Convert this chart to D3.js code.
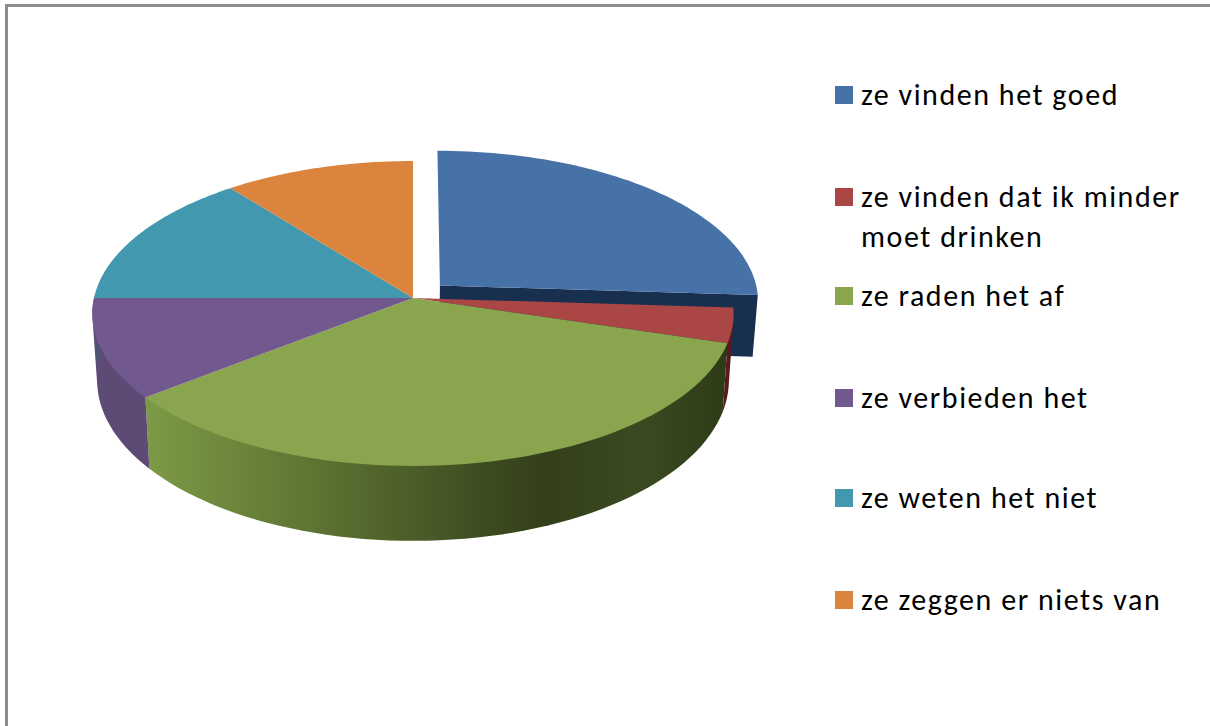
<!DOCTYPE html>
<html><head><meta charset="utf-8">
<style>html,body{margin:0;padding:0;background:#fff}svg{display:block}</style>
<script src="https://cdn.jsdelivr.net/npm/d3@7"></script></head>
<body><div id="c"></div>
<script>
const categories=["ze vinden het goed","ze vinden dat ik minder moet drinken","ze raden het af","ze verbieden het","ze weten het niet","ze zeggen er niets van"];
const values=[26,3.7,34.7,10.6,14.4,10.6];
const topColors=["#4672a8","#aa4643","#89a54e","#71588f","#4198af","#db843d"];
const sideColors=["#182f4f","#5a1a1c","#4d6128","#5d4a75","#2d6a7c","#9a5a28"];
const legendLines=[["ze vinden het goed"],["ze vinden dat ik minder","moet drinken"],["ze raden het af"],["ze verbieden het"],["ze weten het niet"],["ze zeggen er niets van"]];
const legendY=[95,197,296,398,498,600];

const W=1210,H=726;
const svg=d3.select("#c").append("svg").attr("width",W).attr("height",H);
const defs=svg.append("defs");
const g=defs.append("linearGradient").attr("id","gs").attr("gradientUnits","userSpaceOnUse")
 .attr("x1",146).attr("x2",730).attr("y1",0).attr("y2",0);
[[0,"#7c9a46"],[0.3,"#5c7232"],[0.68,"#333f1a"],[0.85,"#3a4a20"],[1,"#2e3a17"]].forEach(s=>g.append("stop").attr("offset",s[0]).attr("stop-color",s[1]));

// perspective disc projection
const cx=413,cy=298,R=319,k=0.1016,A=150.9;
const xT=d3.scaleLinear().domain([-1,1]).range([cx-R,cx+R]);
const yT=d3.scaleLinear().domain([-1,1]).range([cy-A,cy+A]);
const xB=d3.scaleLinear().domain([-1,1]).range([cx-R*0.985,cx+R*0.985]);
const yB=d3.scaleLinear().domain([-1,1]).range([cy+66-158.9,cy+66+158.9]);
const yBx=d3.scaleLinear().domain([-1,1]).range([cy+62-158.9,cy+62+158.9]);
const project=(xs,ys)=>(a,r=1,eu=0,ev=0)=>{const u=r*Math.sin(a)+eu,v=-r*Math.cos(a)+ev,w=1-k*v;return [xs(u/w),ys(v/w)];};
const topPt=project(xT,yT),botPt=project(xB,yB),botEx=project(xB,yBx);
const line=d3.line();
const arcs=d3.pie().sort(null).startAngle(0).endAngle(2*Math.PI)(values);
const samples=(a0,a1)=>d3.range(0,61).map(i=>a0+(a1-a0)*i/60);
const root=svg.append("g");
// frame
root.append("path").attr("d","M6.5,726V5.5H1210").attr("fill","none").attr("stroke","#8c8c8c").attr("stroke-width",3);

const eu=0.085,ev=-0.083;
// exploded slice faces first
const b=arcs[0];
root.append("path").attr("fill","#182f4f").attr("d",line([topPt(0,0,eu,ev),topPt(b.endAngle,1,eu,ev),botEx(b.endAngle,1,eu,ev),botEx(b.endAngle,0,eu,ev)])+"Z");
root.append("path").attr("fill",topColors[0]).attr("d",line([topPt(0,0,eu,ev),...samples(b.startAngle,b.endAngle).map(a=>topPt(a,1,eu,ev))])+"Z");
// sides of remaining slices: hull of the rim, so the silhouette stays tangent at the far left
arcs.slice(1).forEach((d,i)=>{
  const idx=i+1;
  const a0=Math.max(d.startAngle,Math.PI/2-0.02),a1=Math.min(d.endAngle,3*Math.PI/2+0.02);
  if(a1<=a0)return;
  const s=samples(a0,a1);
  const hull=d3.polygonHull([...s.map(a=>topPt(a)),...s.map(a=>botPt(a))]);
  root.append("path").attr("fill",idx===2?"url(#gs)":sideColors[idx]).attr("d",line(hull)+"Z");
});
// top faces
arcs.slice(1).forEach((d,i)=>{
  root.append("path").attr("fill",topColors[i+1]).attr("d",line([topPt(0,0),...samples(d.startAngle,d.endAngle).map(a=>topPt(a))])+"Z");
});
// legend
const lg=root.append("g");
legendLines.forEach((ls,i)=>{
  lg.append("rect").attr("x",835).attr("y",legendY[i]-9).attr("width",18).attr("height",18).attr("fill",topColors[i]);
  ls.forEach((t,j)=>lg.append("text").attr("x",861).attr("y",legendY[i]+10+j*40).attr("font-family","Carlito, 'Open Sans', sans-serif").attr("font-size",30).attr("letter-spacing",1.55).attr("fill","#000").text(t));
});
</script></body></html>
